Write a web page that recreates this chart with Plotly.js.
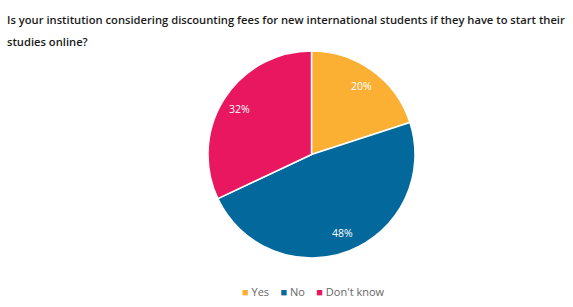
<!DOCTYPE html>
<html>
<head>
<meta charset="utf-8">
<script src="https://cdn.plot.ly/plotly-3.0.1.min.js"></script>
<style>
  html, body { margin: 0; padding: 0; background: #fff; }
  #chart { width: 573px; height: 307px; }
</style>
</head>
<body>
<div id="chart"></div>
<script>
// Survey answers and their shares (percent)
const answers = ["Yes", "No", "Don't know"];
const shares = [20, 48, 32];
const sliceColors = ["#FBB034", "#03689C", "#E8175F"];
const titleLines = [
  "Is your institution considering discounting fees for new international students if they have to start their",
  "studies online?"
];

const W = 573, H = 307;
// pie placement in pixels
const cx = 311.5, cy = 154.5, r = 103.5;

const trace = {
  type: "pie",
  labels: answers,
  values: shares,
  sort: false,
  direction: "clockwise",
  rotation: 0,
  textinfo: "none",
  marker: { colors: sliceColors, line: { color: "#ffffff", width: 1.5 } },
  hoverinfo: "none",
  showlegend: false,
  domain: { x: [(cx - r) / W, (cx + r) / W], y: [1 - (cy + r) / H, 1 - (cy - r) / H] }
};

const annotations = [];

// percentage labels placed along each slice's middle angle
const total = shares.reduce((a, b) => a + b, 0);
let acc = 0;
shares.forEach((v) => {
  const mid = (acc + v / 2) / total * 2 * Math.PI; // clockwise from 12 o'clock
  acc += v;
  const d = 0.82 * r;
  const px = cx + d * Math.sin(mid);
  const py = cy - d * Math.cos(mid);
  annotations.push({
    text: v + "%",
    x: px / W, y: 1 - py / H, xref: "paper", yref: "paper",
    xanchor: "center", yanchor: "middle", showarrow: false,
    font: { family: "Open Sans", size: 10.5, color: "#ffffff" }
  });
});

// title, two lines
titleLines.forEach((line, i) => {
  annotations.push({
    text: line,
    x: 5 / W, y: 1 - (19 + 22 * i) / H, xref: "paper", yref: "paper",
    xanchor: "left", yanchor: "middle", showarrow: false,
    font: { family: "Open Sans", size: 11.2, weight: 600, color: "#1a1a1a" }
  });
});

// legend row
const legendText = answers.map((a, i) =>
  "<span style='color:" + sliceColors[i] + "'>■</span> " + a
).join("    ");
annotations.push({
  text: legendText,
  x: 313 / W, y: 1 - 291 / H, xref: "paper", yref: "paper",
  xanchor: "center", yanchor: "middle", showarrow: false,
  font: { family: "Open Sans", size: 11, color: "#666666" }
});

const layout = {
  width: W,
  height: H,
  margin: { l: 0, r: 0, t: 0, b: 0 },
  paper_bgcolor: "#ffffff",
  plot_bgcolor: "#ffffff",
  font: { family: "Open Sans", color: "#222" },
  showlegend: false,
  annotations: annotations
};

Plotly.newPlot("chart", [trace], layout, { displayModeBar: false, staticPlot: true });
</script>
</body>
</html>
